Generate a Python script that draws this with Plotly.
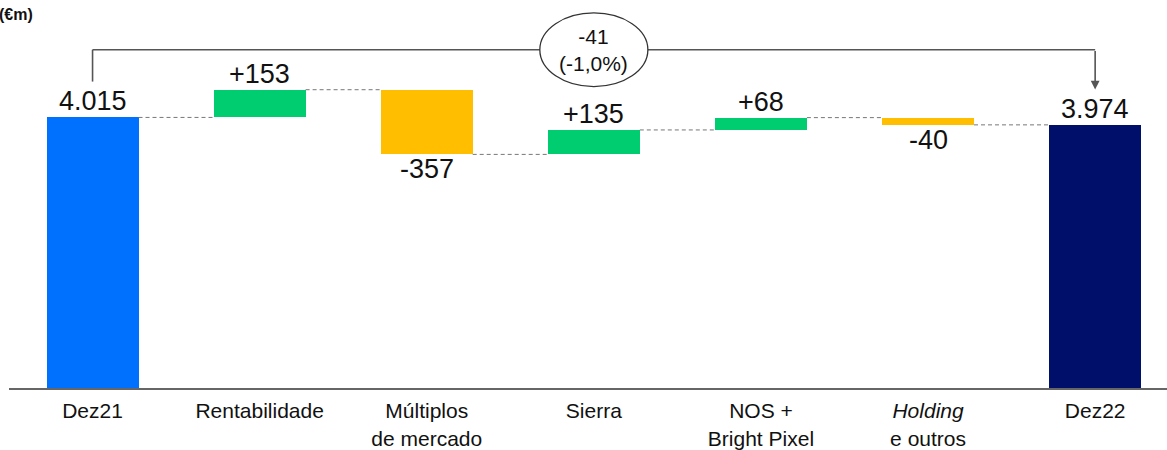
import plotly.graph_objects as go

categories = ["Dez21", "Rentabilidade", "Múltiplos<br>de mercado", "Sierra",
              "NOS +<br>Bright Pixel", "<i>Holding</i><br>e outros", "Dez22"]
values = [4015, 153, -357, 135, 68, -40, 3974]
kinds = ["total", "delta", "delta", "delta", "delta", "delta", "total"]
value_labels = ["4.015", "+153", "-357", "+135", "+68", "-40", "3.974"]
change_label = "-41<br>(-1,0%)"
unit_label = "<b>(€m)</b>"

C_START = "#0070FF"
C_END = "#00106A"
C_UP = "#00CC70"
C_DOWN = "#FFBF00"

Y0, Y1 = 2522, 4663
PLOT_H = 390
PLOT_W = 1158
BAR_W = 0.55
FONT = "Liberation Sans, Arial, sans-serif"

def ppx(py):  # pixel row -> paper fraction
    return 1 - py / PLOT_H

bases, heights, ends = [], [], []
running = 0
for v, k in zip(values, kinds):
    if k == "total":
        bases.append(0); heights.append(v)
        running = v
    else:
        if v >= 0:
            bases.append(running); heights.append(v)
        else:
            bases.append(running + v); heights.append(-v)
        running += v
    ends.append(running)

colors = []
for i, (v, k) in enumerate(zip(values, kinds)):
    if k == "total":
        colors.append(C_START if i == 0 else C_END)
    else:
        colors.append(C_UP if v >= 0 else C_DOWN)

x = list(range(len(categories)))
fig = go.Figure(go.Bar(x=x, y=heights, base=bases, marker_color=colors,
                       marker_line_width=0, width=BAR_W, hoverinfo="skip"))

shapes = []
annotations = []
# connectors
for i in range(len(values) - 1):
    lvl = ends[i]
    shapes.append(dict(type="line", xref="x", yref="y",
                       x0=i + BAR_W / 2, x1=i + 1 - BAR_W / 2, y0=lvl, y1=lvl,
                       line=dict(color="#777777", width=1, dash="4px,3px")))
# value labels
for i, (v, k) in enumerate(zip(values, kinds)):
    top = bases[i] + heights[i]
    if k == "total" or v >= 0:
        annotations.append(dict(x=i, y=top, xref="x", yref="y", text=value_labels[i],
                                showarrow=False, xanchor="center", yanchor="bottom", yshift=-1,
                                font=dict(size=27, color="#111111", family=FONT)))
    else:
        annotations.append(dict(x=i, y=bases[i], xref="x", yref="y", text=value_labels[i],
                                showarrow=False, xanchor="center", yanchor="top", yshift=2,
                                font=dict(size=27, color="#111111", family=FONT)))

# bracket
LC = "#555555"
shapes.append(dict(type="line", xref="x", yref="paper", x0=0, x1=0,
                   y0=ppx(82), y1=ppx(50), line=dict(color=LC, width=1.6)))
shapes.append(dict(type="line", xref="x", yref="paper", x0=0, x1=len(values) - 1,
                   y0=ppx(50), y1=ppx(50), line=dict(color=LC, width=1.6)))
mid = (len(values) - 1) / 2
shapes.append(dict(type="circle", xref="x", yref="paper",
                   x0=mid - 54 / 167, x1=mid + 54 / 167, y0=ppx(87), y1=ppx(13),
                   fillcolor="white", line=dict(color="#333333", width=1.3)))
annotations.append(dict(x=len(values) - 1, y=ppx(90), xref="x", yref="paper",
                        ax=0, ay=-40, axref="pixel", ayref="pixel", text="",
                        showarrow=True, arrowhead=2, arrowsize=1.1, arrowwidth=1.6,
                        arrowcolor=LC))
annotations.append(dict(x=mid, y=ppx(50), xref="x", yref="paper", text=change_label,
                        showarrow=False, xanchor="center", yanchor="middle",
                        font=dict(size=21, color="#111111", family=FONT)))
annotations.append(dict(x=(35 - 9) / PLOT_W, y=ppx(15), xref="paper", yref="paper",
                        text=unit_label, showarrow=False, xanchor="right", yanchor="middle",
                        font=dict(size=16, color="#111111", family=FONT)))

fig.update_layout(
    width=1167, height=450,
    margin=dict(l=9, r=0, t=0, b=60),
    plot_bgcolor="white", paper_bgcolor="white",
    showlegend=False, bargap=0,
    shapes=shapes, annotations=annotations,
    font=dict(family=FONT, color="#111111"),
    xaxis=dict(range=[-0.5, 6.43], tickmode="array", tickvals=x, ticktext=categories,
               tickfont=dict(size=21, color="#111111", family=FONT),
               ticklabelstandoff=3,
               showline=True, linecolor="#666666", linewidth=2,
               showgrid=False, zeroline=False, ticks="", fixedrange=True),
    yaxis=dict(range=[Y0, Y1], visible=False, showgrid=False, zeroline=False),
)

fig.write_html("out.html")
